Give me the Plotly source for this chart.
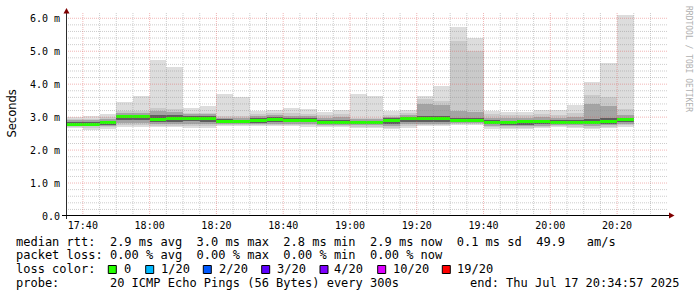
import plotly.graph_objects as go
import pandas as pd

DAY = "2025-07-17 "
# 5-minute interval start times
starts = ["17:35", "17:40", "17:45", "17:50", "17:55", "18:00", "18:05", "18:10", "18:15",
          "18:20", "18:25", "18:30", "18:35", "18:40", "18:45", "18:50", "18:55", "19:00",
          "19:05", "19:10", "19:15", "19:20", "19:25", "19:30", "19:35", "19:40", "19:45",
          "19:50", "19:55", "20:00", "20:05", "20:10", "20:15", "20:20"]
# median rtt (ms)
median = [2.79, 2.79, 2.83, 3.03, 3.02, 2.93, 2.95, 2.97, 2.95, 2.88, 2.87, 2.89, 2.93, 2.90,
          2.90, 2.85, 2.85, 2.83, 2.84, 2.90, 2.95, 2.96, 2.96, 2.91, 2.91, 2.83, 2.83, 2.88,
          2.87, 2.85, 2.85, 2.84, 2.86, 2.92]
# smoke: outermost pings (ping 1 / ping 20)
ping_min = [2.68, 2.61, 2.65, 2.71, 2.71, 2.70, 2.70, 2.68, 2.68, 2.73, 2.73, 2.72, 2.72, 2.72,
            2.71, 2.70, 2.70, 2.68, 2.66, 2.63, 2.68, 2.73, 2.73, 2.77, 2.77, 2.65, 2.63, 2.63,
            2.67, 2.70, 2.67, 2.63, 2.67, 2.71]
ping_max = [3.00, 3.03, 3.10, 3.47, 3.64, 4.73, 4.52, 3.29, 3.35, 3.70, 3.60, 3.20, 3.21, 3.28,
            3.25, 3.16, 3.23, 3.70, 3.64, 3.19, 3.23, 3.64, 3.94, 5.74, 5.39, 3.19, 3.17, 3.16,
            3.21, 3.23, 3.37, 4.06, 4.65, 6.11]
# ping 2 / ping 19
lo_2 = [2.70, 2.66, 2.69, 2.76, 2.76, 2.74, 2.74, 2.72, 2.72, 2.75, 2.75, 2.75, 2.76, 2.75,
        2.75, 2.73, 2.73, 2.71, 2.70, 2.67, 2.72, 2.76, 2.76, 2.79, 2.79, 2.69, 2.68, 2.67,
        2.70, 2.73, 2.71, 2.67, 2.71, 2.75]
hi_2 = [2.95, 2.95, 3.00, 3.20, 3.20, 3.28, 3.24, 3.14, 3.13, 3.04, 3.04, 3.10, 3.12, 3.12,
        3.10, 3.05, 3.08, 2.98, 2.98, 3.06, 3.12, 3.56, 3.50, 5.32, 5.02, 3.08, 3.06, 3.05,
        3.08, 3.05, 3.13, 3.67, 3.60, 3.25]
# ping 4 / ping 17
lo_4 = [2.73, 2.72, 2.73, 2.82, 2.82, 2.78, 2.79, 2.78, 2.78, 2.78, 2.78, 2.79, 2.80, 2.79,
        2.79, 2.77, 2.77, 2.75, 2.75, 2.73, 2.78, 2.80, 2.80, 2.82, 2.82, 2.73, 2.72, 2.72,
        2.74, 2.76, 2.75, 2.72, 2.75, 2.79]
hi_4 = [2.90, 2.90, 2.93, 3.12, 3.13, 3.18, 3.15, 3.08, 3.08, 2.98, 2.97, 3.04, 3.06, 3.03,
        3.02, 2.98, 2.99, 2.93, 2.93, 3.00, 3.05, 3.40, 3.38, 3.20, 3.15, 2.98, 2.97, 2.98,
        2.99, 2.98, 3.00, 3.40, 3.35, 3.07]
# ping 7 / ping 14
lo_7 = [2.76, 2.75, 2.77, 2.90, 2.90, 2.85, 2.86, 2.87, 2.86, 2.82, 2.81, 2.83, 2.85, 2.84,
        2.84, 2.81, 2.81, 2.79, 2.79, 2.80, 2.85, 2.86, 2.86, 2.86, 2.86, 2.78, 2.76, 2.76,
        2.79, 2.80, 2.79, 2.78, 2.80, 2.84]
hi_7 = [2.85, 2.85, 2.88, 3.06, 3.06, 3.05, 3.05, 3.03, 3.02, 2.93, 2.92, 2.98, 3.00, 2.97,
        2.96, 2.92, 2.92, 2.89, 2.89, 2.96, 3.00, 3.03, 3.03, 2.98, 2.97, 2.90, 2.88, 2.92,
        2.92, 2.91, 2.91, 2.95, 2.96, 2.98]

y_ticks = [0, 1, 2, 3, 4, 5, 6]
y_tick_text = ["0.0", "1.0 m", "2.0 m", "3.0 m", "4.0 m", "5.0 m", "6.0 m"]

legend_rows = [
    "median rtt:  2.9 ms avg  3.0 ms max  2.8 ms min  2.9 ms now  0.1 ms sd  49.9   am/s",
    "packet loss: 0.00 % avg  0.00 % max  0.00 % min  0.00 % now",
    "loss color:",
    "probe:       20 ICMP Echo Pings (56 Bytes) every 300s",
]
end_text = "end: Thu Jul 17 20:34:57 2025"
loss_labels = ["0", "1/20", "2/20", "3/20", "4/20", "10/20", "19/20"]
loss_colors = ["#26ff00", "#00b8ff", "#0059ff", "#5e00ff", "#7e00ff", "#dd00ff", "#ff0000"]

# ---------------- layout geometry ----------------
W, H = 697, 297
ML, MR, MT, MB = 66, 30, 12, 81
PW, PH = W - ML - MR, H - MT - MB
X_START, X_END = DAY + "17:34:57", DAY + "20:34:57"
Y_MAX = 6.19
STEP_MS = 300000


def px(x):
    return (x - ML) / PW


def py(y):
    return 1 - (y - MT) / PH


xs = [DAY + s for s in starts]
fig = go.Figure()

layers = [
    (ping_min, ping_max, "#dddddd"),
    (lo_2, hi_2, "#cacaca"),
    (lo_4, hi_4, "#a4a4a4"),
    (lo_7, hi_7, "#5e5e5e"),
]
for lo, hi, col in layers:
    fig.add_trace(go.Bar(
        x=xs, y=[h - l for l, h in zip(lo, hi)], base=lo,
        width=STEP_MS, offset=0, marker=dict(color=col, line=dict(width=0)),
        hoverinfo="skip", showlegend=False))

MED_T = 0.09
fig.add_trace(go.Bar(
    x=xs, y=[MED_T] * len(median), base=[m - MED_T / 2 for m in median],
    width=STEP_MS, offset=0, marker=dict(color="#26ff00", line=dict(width=0)),
    hoverinfo="skip", showlegend=False))

shapes = []
minor_col = "rgba(143,143,143,0.45)"
major_col = "rgba(222,80,80,0.42)"
# horizontal grid
for k in range(1, 31):
    v = round(0.2 * k, 1)
    col = major_col if k % 5 == 0 else minor_col
    shapes.append(dict(type="line", xref="paper", yref="y", x0=0, x1=px(668), y0=v, y1=v,
                       line=dict(color=col, width=1, dash="1px,1px"), layer="above"))
# vertical grid
for t in pd.date_range(DAY + "17:35", DAY + "20:30", freq="5min"):
    col = major_col if t.minute % 20 == 0 else minor_col
    shapes.append(dict(type="line", xref="x", yref="paper", x0=t, x1=t, y0=0, y1=1,
                       line=dict(color=col, width=1, dash="1px,1px"), layer="above"))
# axes
shapes.append(dict(type="line", xref="paper", yref="paper", x0=px(66.5), x1=px(66.5),
                   y0=py(219), y1=py(12), line=dict(color="#2c2c2c", width=1), layer="above"))
shapes.append(dict(type="line", xref="paper", yref="paper", x0=px(62), x1=px(670),
                   y0=py(215.5), y1=py(215.5), line=dict(color="#000000", width=1), layer="above"))
# arrows
shapes.append(dict(type="path", xref="paper", yref="paper",
                   path=f"M {px(63.5)},{py(13.5)} L {px(69.5)},{py(13.5)} L {px(66.5)},{py(8)} Z",
                   fillcolor="#7f0000", line=dict(width=0), layer="above"))
shapes.append(dict(type="path", xref="paper", yref="paper",
                   path=f"M {px(669)},{py(212.5)} L {px(669)},{py(218.5)} L {px(674.5)},{py(215.5)} Z",
                   fillcolor="#7f0000", line=dict(width=0), layer="above"))

mono = "DejaVu Sans Mono"
annotations = []
row_y = [241.5, 255.2, 268.9, 282.6]
for txt, yy in zip(legend_rows, row_y):
    annotations.append(dict(text=txt.replace(" ", "\u00a0"), xref="paper", yref="paper",
                            x=px(14.5), y=py(yy), xanchor="left", yanchor="middle",
                            showarrow=False, borderpad=0,
                            font=dict(family=mono, size=12, color="#000000")))
annotations.append(dict(text=end_text.replace(" ", "\u00a0"), xref="paper", yref="paper",
                        x=px(681), y=py(row_y[3]), xanchor="right", yanchor="middle",
                        showarrow=False, borderpad=0,
                        font=dict(family=mono, size=12, color="#000000")))
box_x = [108.3, 145.7, 203.3, 261.7, 320.0, 377.7, 442.3]
lab_x = [122.8, 159.5, 217.8, 275.5, 332.5, 391.8, 456.2]
for bx, lx, lab, col in zip(box_x, lab_x, loss_labels, loss_colors):
    shapes.append(dict(type="rect", xref="paper", yref="paper",
                       x0=px(bx), x1=px(bx + 8), y0=py(265.5), y1=py(273.5),
                       fillcolor=col, line=dict(color="#000000", width=1)))
    annotations.append(dict(text=lab, xref="paper", yref="paper", x=px(lx), y=py(row_y[2]),
                            xanchor="left", yanchor="middle", showarrow=False, borderpad=0,
                            font=dict(family=mono, size=12, color="#000000")))
annotations.append(dict(text="Seconds", xref="paper", yref="paper", x=px(11), y=py(113.5),
                        textangle=-90, showarrow=False, xanchor="center", yanchor="middle",
                        font=dict(family="DejaVu Sans", size=11.5, color="#000000")))
annotations.append(dict(text="RRDTOOL / TOBI OETIKER", xref="paper", yref="paper",
                        x=px(688), y=py(59), textangle=90, showarrow=False,
                        xanchor="center", yanchor="middle",
                        font=dict(family=mono, size=8, color="#b0b0b0")))

fig.update_layout(
    width=W, height=H, margin=dict(l=ML, r=MR, t=MT, b=MB, pad=0),
    paper_bgcolor="#ffffff", plot_bgcolor="#ffffff",
    barmode="overlay", bargap=0, showlegend=False,
    shapes=shapes, annotations=annotations,
    xaxis=dict(type="date", range=[X_START, X_END], showgrid=False, zeroline=False,
               showline=False, ticks="", tickformat="%H:%M", dtick=1200000,
               tick0=DAY + "17:40", ticklabelstandoff=2,
               tickfont=dict(family=mono, size=10, color="#000000")),
    yaxis=dict(range=[0, Y_MAX], showgrid=False, zeroline=False, showline=False, ticks="",
               tickvals=y_ticks, ticktext=y_tick_text, ticklabelstandoff=5,
               tickfont=dict(family=mono, size=10, color="#000000")),
)

fig.write_html("out.html")
